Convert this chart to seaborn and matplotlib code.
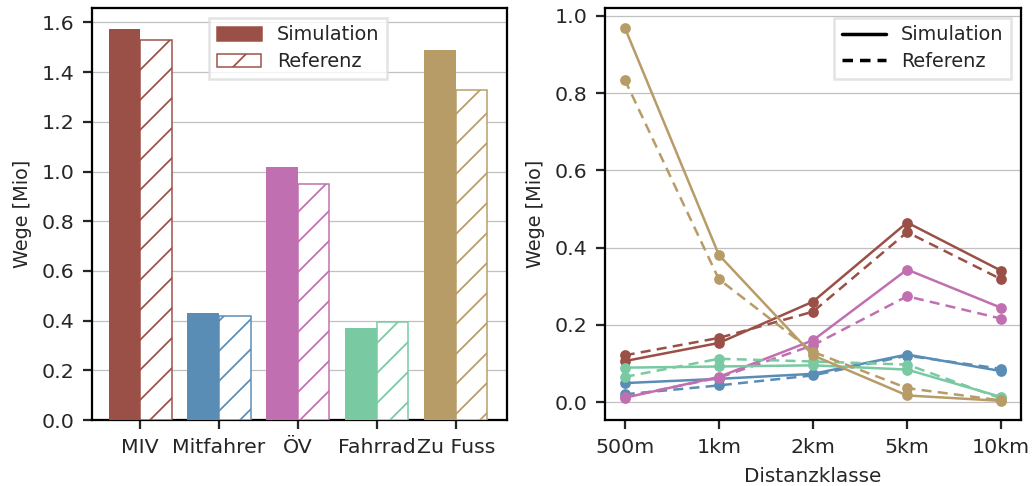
import matplotlib
matplotlib.use("Agg")
import matplotlib.pyplot as plt
from matplotlib.patches import Patch
from matplotlib.lines import Line2D
import seaborn as sns
import pandas as pd

# ---- data ----
modes = ["MIV", "Mitfahrer", "ÖV", "Fahrrad", "Zu Fuss"]
colors = ["#9b5047", "#5a8db6", "#c070b0", "#79c9a2", "#b89c67"]
sim_total = [1.575, 0.43, 1.02, 0.372, 1.49]
ref_total = [1.53, 0.42, 0.95, 0.395, 1.33]

dist_classes = ["500m", "1km", "2km", "5km", "10km"]
sim_dist = {
    "MIV":       [0.106, 0.153, 0.260, 0.465, 0.340],
    "Mitfahrer": [0.049, 0.060, 0.073, 0.123, 0.080],
    "ÖV":        [0.011, 0.065, 0.160, 0.343, 0.244],
    "Fahrrad":   [0.089, 0.092, 0.095, 0.084, 0.013],
    "Zu Fuss":   [0.970, 0.381, 0.121, 0.017, 0.003],
}
ref_dist = {
    "MIV":       [0.121, 0.166, 0.234, 0.440, 0.318],
    "Mitfahrer": [0.020, 0.043, 0.069, 0.120, 0.086],
    "ÖV":        [0.013, 0.063, 0.147, 0.274, 0.216],
    "Fahrrad":   [0.065, 0.112, 0.105, 0.097, 0.009],
    "Zu Fuss":   [0.835, 0.318, 0.130, 0.036, 0.004],
}

sns.set_style("ticks")
plt.rcParams["font.family"] = ["DejaVu Sans"]
plt.rcParams["hatch.linewidth"] = 0.7
FS_TICK = 8.2
FS_LAB = 7.7
FS_LEG = 7.7

DPI = 180
fig = plt.figure(figsize=(1036 / DPI, 486 / DPI), dpi=DPI)
ax1 = fig.add_axes([92 / 1036, 66 / 486, 415 / 1036, 412 / 486])
ax2 = fig.add_axes([605 / 1036, 66 / 486, 416 / 1036, 412 / 486])

# ---- left: bar chart ----
bar_df = pd.DataFrame({
    "Modus": modes * 2,
    "Wege": sim_total + ref_total,
    "Quelle": ["Simulation"] * len(modes) + ["Referenz"] * len(modes),
})
sns.barplot(data=bar_df, x="Modus", y="Wege", hue="Quelle", order=modes,
            hue_order=["Simulation", "Referenz"], ax=ax1, legend=False,
            width=0.8, zorder=3)
for bar, c in zip(ax1.containers[0], colors):
    bar.set_facecolor(c)
    bar.set_edgecolor(c)
    bar.set_linewidth(0)
for bar, c in zip(ax1.containers[1], colors):
    bar.set_facecolor("white")
    bar.set_edgecolor(c)
    bar.set_hatch("//")
    bar.set_linewidth(0.6)

ax1.set_xlim(-0.61, 4.65)
ax1.set_ylim(0, 1.658)
ax1.set_yticks([0, 0.2, 0.4, 0.6, 0.8, 1.0, 1.2, 1.4, 1.6])
ax1.set_xlabel("")
ax1.set_ylabel("Wege [Mio]", fontsize=FS_LAB)
ax1.yaxis.grid(True, color="#c0c0c0", linewidth=0.5, zorder=0)
ax1.set_axisbelow(True)
ax1.tick_params(labelsize=FS_TICK, width=0.9, length=3.5)
leg_handles = [
    Patch(facecolor=colors[0], edgecolor=colors[0], label="Simulation"),
    Patch(facecolor="white", edgecolor=colors[0], hatch="//", linewidth=0.6, label="Referenz"),
]
ax1.legend(handles=leg_handles, loc="upper center", bbox_to_anchor=(0.497, 1.0),
           fontsize=FS_LEG, frameon=True, fancybox=False, framealpha=0.8,
           edgecolor="#dddddd", handlelength=2.3, labelspacing=0.4)

# ---- right: line chart ----
rows = []
for m in modes:
    for d, s, r in zip(dist_classes, sim_dist[m], ref_dist[m]):
        rows.append({"Distanz": d, "Wege": s, "Modus": m, "Quelle": "Simulation"})
        rows.append({"Distanz": d, "Wege": r, "Modus": m, "Quelle": "Referenz"})
line_df = pd.DataFrame(rows)
sns.lineplot(data=line_df, x="Distanz", y="Wege", hue="Modus", style="Quelle",
             hue_order=modes, palette=dict(zip(modes, colors)),
             style_order=["Simulation", "Referenz"],
             markers={"Simulation": "o", "Referenz": "o"},
             dashes={"Simulation": "", "Referenz": (4, 2.5)},
             markersize=4.3, markeredgewidth=0, linewidth=1.0,
             sort=False, legend=False, ax=ax2, zorder=3)
ax2.set_xlim(-0.21, 4.21)
ax2.set_ylim(-0.0466, 1.0207)
ax2.set_yticks([0, 0.2, 0.4, 0.6, 0.8, 1.0])
ax2.set_xlabel("Distanzklasse", fontsize=FS_TICK - 0.2)
ax2.set_ylabel("Wege [Mio]", fontsize=FS_LAB)
ax2.yaxis.grid(True, color="#c0c0c0", linewidth=0.5, zorder=0)
ax2.set_axisbelow(True)
ax2.tick_params(labelsize=FS_TICK, width=0.9, length=3.5)
lh = [Line2D([0], [0], color="black", lw=1.4, ls="-", label="Simulation"),
      Line2D([0], [0], color="black", lw=1.4, ls=(0, (3, 2)), label="Referenz")]
ax2.legend(handles=lh, loc="upper right", bbox_to_anchor=(1.0, 1.0),
           fontsize=FS_LEG, frameon=True, fancybox=False, framealpha=0.8,
           edgecolor="#dddddd", handlelength=2.3, labelspacing=0.4)

for ax in (ax1, ax2):
    for sp in ax.spines.values():
        sp.set_visible(True)
        sp.set_color("black")
        sp.set_linewidth(0.9)

fig.savefig("out.png", dpi=DPI)
